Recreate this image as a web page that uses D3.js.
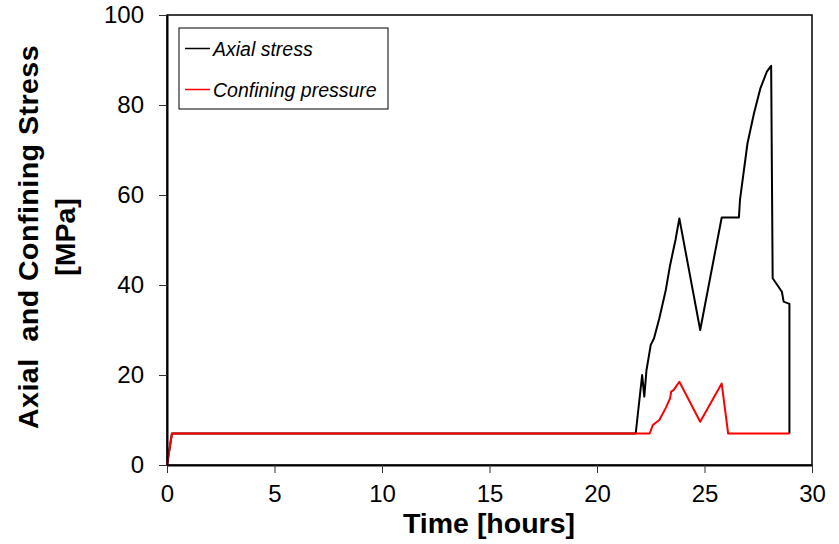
<!DOCTYPE html>
<html>
<head>
<meta charset="utf-8">
<script src="https://cdn.jsdelivr.net/npm/d3@7"></script>
<style>
  body { margin: 0; background: #fff; }
  text { font-family: Arial, "Liberation Sans", sans-serif; }
</style>
</head>
<body>
<div id="chart"></div>
<script>
// time [hours], stress [MPa]
const axialTime = [0, 0.23, 21.8, 22.1, 22.2, 22.3, 22.5, 22.65, 22.9, 23.2, 23.4, 23.65, 23.83,
  24.8, 25.8, 26.6, 26.65, 27.0, 27.3, 27.6, 27.9, 28.1, 28.17, 28.6, 28.68, 28.95, 28.95];
const axialStress = [0, 7, 7, 20, 15.2, 21, 26.7, 28.1, 32.6, 38.9, 44.4, 50, 54.8,
  30, 55, 55, 58.9, 71.5, 78.1, 83.7, 87.4, 88.7, 41.5, 38.5, 36.3, 35.8, 7];
const confTime = [0, 0.23, 22.45, 22.6, 22.9, 23.2, 23.4, 23.45, 23.57, 23.83, 24.8, 25.8, 26.1, 28.95];
const confStress = [0, 7, 7, 8.9, 10, 12.7, 14.8, 16.3, 16.7, 18.5, 9.6, 18.1, 7, 7];
const xTicks = [0, 5, 10, 15, 20, 25, 30];
const yTicks = [0, 20, 40, 60, 80, 100];
const seriesNames = ['Axial stress', 'Confining pressure'];
const seriesColors = ['#000000', '#ff0000'];

const W = 839, H = 544;
const margin = {top: 15, right: 27, bottom: 79, left: 167};
const width = W - margin.left - margin.right;
const height = H - margin.top - margin.bottom;

const svg = d3.select('#chart').append('svg')
  .attr('width', W).attr('height', H);
const g = svg.append('g')
  .attr('transform', `translate(${margin.left},${margin.top})`);

const x = d3.scaleLinear().domain([0, 30]).range([0, width]);
const y = d3.scaleLinear().domain([0, 100]).range([height, 0]);

// frame
g.append('rect')
  .attr('width', width).attr('height', height)
  .attr('fill', 'none').attr('stroke', '#000').attr('stroke-width', 1.5);

const line = d3.line().x(d => x(d[0])).y(d => y(d[1]));
const series = [
  d3.zip(axialTime, axialStress),
  d3.zip(confTime, confStress)
];
g.selectAll('path.series')
  .data(series)
  .join('path')
  .attr('class', 'series')
  .attr('d', line)
  .attr('fill', 'none')
  .attr('stroke', (d, i) => seriesColors[i])
  .attr('stroke-width', 2)
  .attr('stroke-linejoin', 'round');

// axes
const gx = g.append('g')
  .attr('transform', `translate(0,${height})`)
  .call(d3.axisBottom(x).tickValues(xTicks).tickSize(8).tickSizeOuter(0).tickPadding(12));
gx.select('.domain').attr('stroke-width', 2);
gx.selectAll('.tick line').attr('stroke', '#333');
gx.selectAll('text').attr('font-size', 24).attr('fill', '#000')
  .attr('font-family', 'Arial, "Liberation Sans", sans-serif');

const gy = g.append('g')
  .call(d3.axisLeft(y).tickValues(yTicks).tickSize(8).tickSizeOuter(0).tickPadding(15));
gy.select('.domain').attr('stroke-width', 2);
gy.selectAll('.tick line').attr('stroke', '#333');
gy.selectAll('text').attr('font-size', 24).attr('fill', '#000')
  .attr('font-family', 'Arial, "Liberation Sans", sans-serif');

// titles
svg.append('text')
  .attr('x', 489).attr('y', 533)
  .attr('text-anchor', 'middle')
  .attr('font-size', 28.5).attr('font-weight', 'bold')
  .text('Time [hours]');

const yt = svg.append('text')
  .attr('transform', 'translate(0,237) rotate(-90)')
  .attr('text-anchor', 'middle')
  .attr('font-size', 28.5).attr('font-weight', 'bold');
yt.append('tspan').attr('x', 0).attr('y', 37.5)
  .attr('letter-spacing', 0.5).attr('xml:space', 'preserve')
  .text('Axial  and Confining Stress');
yt.append('tspan').attr('x', 0).attr('y', 75).text('[MPa]');

// legend
const lg = g.append('g').attr('transform', `translate(${179 - margin.left},${28 - margin.top})`);
lg.append('rect')
  .attr('width', 209).attr('height', 81)
  .attr('fill', '#fff').attr('stroke', '#000').attr('stroke-width', 1);
const items = lg.selectAll('g.item')
  .data(seriesNames)
  .join('g')
  .attr('class', 'item')
  .attr('transform', (d, i) => `translate(0,${20.5 + i * 41})`);
items.append('line')
  .attr('x1', 6).attr('x2', 31)
  .attr('stroke', (d, i) => seriesColors[i]).attr('stroke-width', 1.5);
items.append('text')
  .attr('x', 34).attr('y', 7)
  .attr('font-size', 19.5).attr('font-style', 'italic')
  .text(d => d);
</script>
</body>
</html>
